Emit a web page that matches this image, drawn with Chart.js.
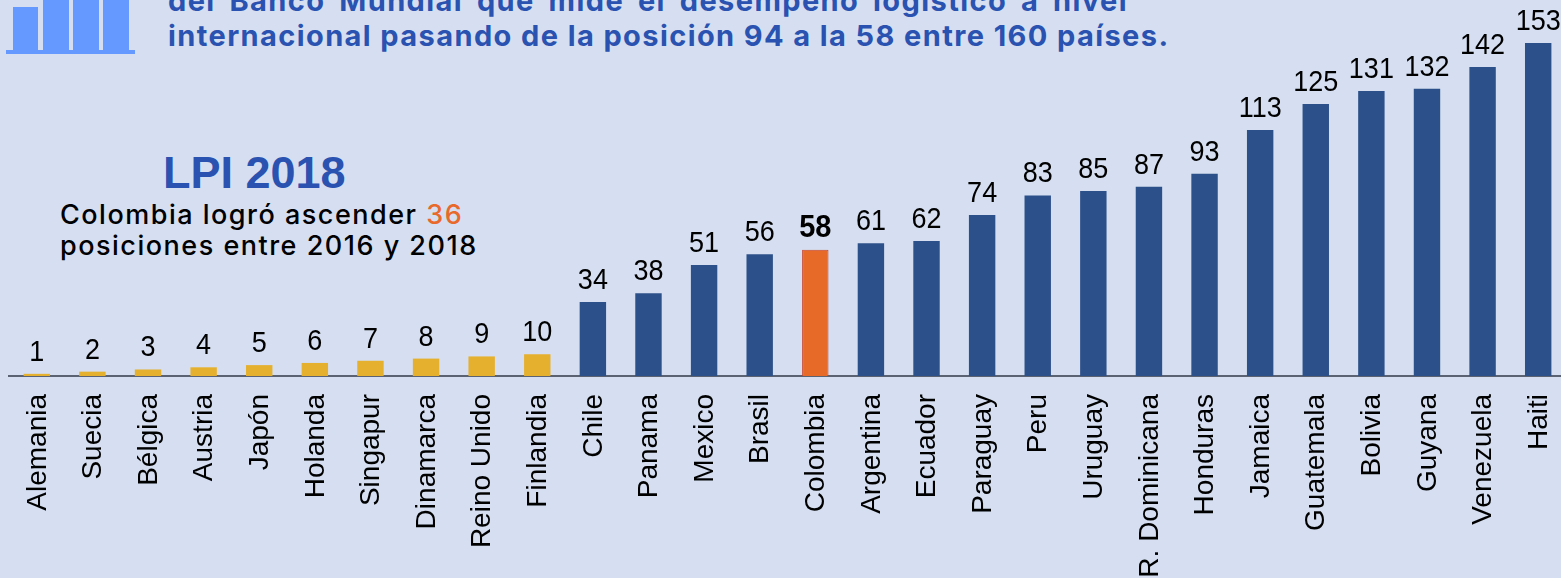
<!DOCTYPE html>
<html>
<head>
<meta charset="utf-8">
<style>
  html, body { margin: 0; width: 1561px; height: 578px; overflow: hidden; background: #d5dff1; }
  #grafico { position: absolute; left: 0; top: 0; }
  .txt { position: absolute; white-space: nowrap; }
  .intro { left: 168px; font: 700 29px Inter, sans-serif; letter-spacing: 1.4px; color: #2a52b0; line-height: 36px; }
  .lpi { left: 163px; top: 148px; font: 700 45px "Liberation Sans", sans-serif; color: #2a52b0; line-height: 50px; }
  .nota { left: 60px; font: 500 27px Inter, sans-serif; letter-spacing: 1.5px; color: #000; line-height: 32px; }
  .icono { position: absolute; background: #6699ff; }
</style>
</head>
<body>
<div class="icono" style="left:13px;top:7px;width:25px;height:44px"></div>
<div class="icono" style="left:43px;top:0;width:26px;height:51px"></div>
<div class="icono" style="left:73px;top:0;width:26px;height:51px"></div>
<div class="icono" style="left:103px;top:0;width:26px;height:51px"></div>
<div class="icono" style="left:6px;top:50px;width:129px;height:4px"></div>

<div class="txt intro" style="top:-17px;width:960px;white-space:normal;text-align:justify;text-align-last:justify">del Banco Mundial que mide el desempeño logístico a nivel</div>
<div class="txt intro" style="top:18px">internacional pasando de la posición 94 a la 58 entre 160 países.</div>
<div class="txt lpi">LPI 2018</div>
<div class="txt nota" style="top:199px">Colombia logró ascender <span style="color:#e8692b">36</span></div>
<div class="txt nota" style="top:230px">posiciones entre 2016 y 2018</div>

<canvas id="grafico" width="1566" height="578"></canvas>

<script src="https://cdn.jsdelivr.net/npm/chart.js@4"></script>
<script>
const paises = ['Alemania', 'Suecia', 'Bélgica', 'Austria', 'Japón', 'Holanda', 'Singapur', 'Dinamarca', 'Reino Unido', 'Finlandia', 'Chile', 'Panama', 'Mexico', 'Brasil', 'Colombia', 'Argentina', 'Ecuador', 'Paraguay', 'Peru', 'Uruguay', 'R. Dominicana', 'Honduras', 'Jamaica', 'Guatemala', 'Bolivia', 'Guyana', 'Venezuela', 'Haiti'];
const posiciones = [1, 2, 3, 4, 5, 6, 7, 8, 9, 10, 34, 38, 51, 56, 58, 61, 62, 74, 83, 85, 87, 93, 113, 125, 131, 132, 142, 153];

// numeros encima de cada barra (un poco estirados en vertical, como en el original)
const etiquetas = {
  id: 'etiquetas',
  afterDatasetsDraw(chart) {
    const ctx = chart.ctx;
    const meta = chart.getDatasetMeta(0);
    ctx.textAlign = 'center';
    ctx.textBaseline = 'alphabetic';
    ctx.fillStyle = '#000';
    meta.data.forEach((barra, i) => {
      const esColombia = paises[i] === 'Colombia';
      ctx.save();
      ctx.translate(barra.x, barra.y - 13);
      ctx.scale(1, 1.07);
      ctx.font = (esColombia ? 'bold 29px' : '27px') + ' "Liberation Sans"';
      ctx.fillText(posiciones[i], 0, 0);
      ctx.restore();
    });
  }
};

new Chart(document.getElementById('grafico').getContext('2d'), {
  type: 'bar',
  data: {
    labels: paises,
    datasets: [{
      data: posiciones,
      barPercentage: 0.475,
      categoryPercentage: 1,
      backgroundColor: (c) => {
        if (paises[c.dataIndex] === 'Colombia') return '#e86a28';
        return c.raw <= 10 ? '#e5b02e' : '#2c5089';
      },
      borderColor: (c) => paises[c.dataIndex] === 'Colombia' ? '#c8452a' : 'transparent',
      borderWidth: (c) => paises[c.dataIndex] === 'Colombia' ? 1 : 0
    }]
  },
  options: {
    responsive: false,
    animation: false,
    layout: { padding: { left: 9, right: 0, top: 0, bottom: 0 } },
    plugins: { legend: { display: false }, tooltip: { enabled: false } },
    scales: {
      x: {
        grid: { display: false },
        border: { display: true, color: '#5b6373', width: 2 },
        afterFit: (scale) => {
          scale.height = 202;
          scale.paddingLeft = 0;
          scale.paddingRight = 0;
        },
        ticks: {
          autoSkip: false,
          minRotation: 90,
          maxRotation: 90,
          padding: 10,
          labelOffset: 1,
          color: '#000',
          font: { family: '"Liberation Sans"', size: 28 }
        }
      },
      y: { display: false, min: 0, max: 172.8 }
    }
  },
  plugins: [etiquetas]
});
</script>
</body>
</html>
